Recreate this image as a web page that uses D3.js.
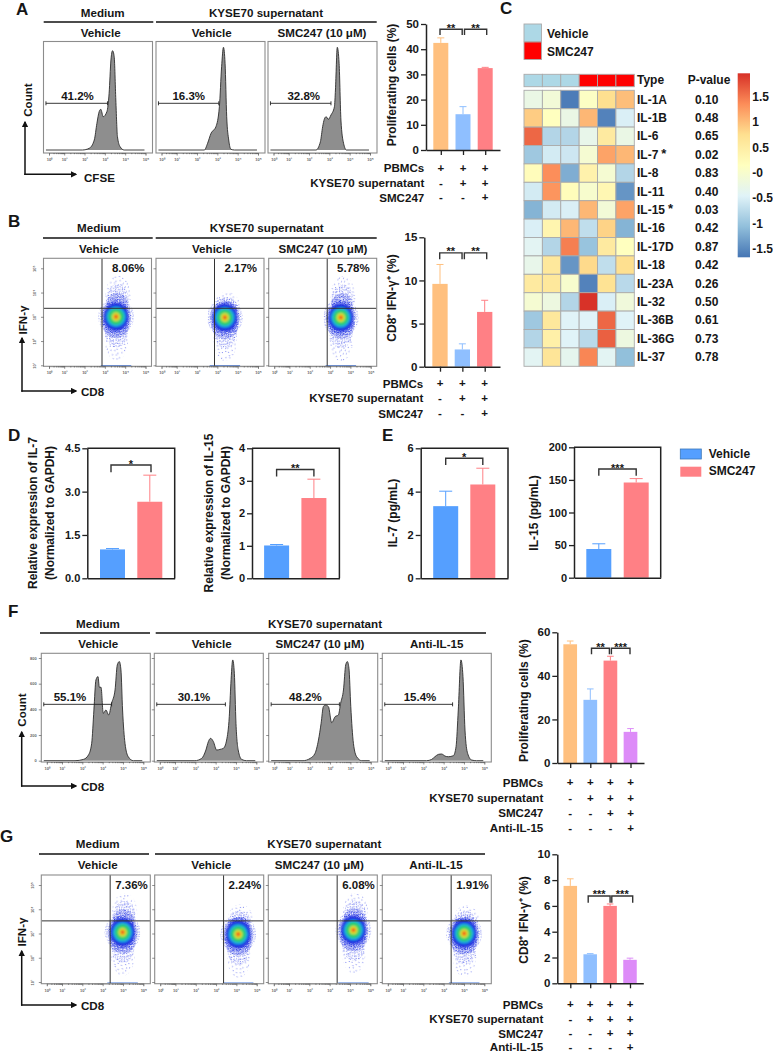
<!DOCTYPE html>
<html><head><meta charset="utf-8">
<script src="https://cdn.jsdelivr.net/npm/d3@7"></script>
<style>
html,body{margin:0;padding:0;background:#fff}
svg{display:block}
text{font-family:"Liberation Sans",Arial,sans-serif;font-weight:700;fill:#161616}
</style></head><body><div id="chart"></div>
<script>
// ---------- DATA ----------
const colOrange="#FFC07F",colBlue="#8FBFFF",colRed="#FF8085",colPurple="#DD8CF8",colBlue2="#559FFF";
const rowsABLabels=["PBMCs","KYSE70 supernatant","SMC247"];
const rowsAB=[["+","+","+"],["-","+","+"],["-","-","+"]];
const rowsFGLabels=["PBMCs","KYSE70 supernatant","SMC247","Anti-IL-15"];
const rowsFG=[["+","+","+","+"],["-","+","+","+"],["-","-","+","+"],["-","-","-","+"]];
const aVals=[42.5,14.2,32.5], aErr=[44.5,17.2,32.8];
const bVals=[9.6,2.0,6.35], bErr=[11.85,2.65,7.7];
const d1Vals=[1.0,2.65], d1Err=[1.03,3.57];
const d2Vals=[1.01,2.47], d2Err=[1.04,3.05];
const e1Vals=[3.33,4.33], e1Err=[4.02,5.08];
const e2Vals=[44,146], e2Err=[52,152];
const fVals=[54.5,29,47,14.3], fErr=[56,34,49,15.8];
const gVals=[7.55,2.25,6.0,1.82], gErr=[8.1,2.3,6.15,1.95];
// histograms: log10 intensity / normalised count
const hA1x=[1.9,2.23,2.48,2.61,2.72,2.8,2.92,3.1,3.21,3.3,3.38,3.46,3.54,3.62,3.75,3.95];
const hA1y=[0,.017,.1,.267,.383,.407,.333,.383,.567,.9,.993,.933,.5,.133,.033,0];
const hA2x=[2.36,2.52,2.69,2.93,3.1,3.21,3.3,3.38,3.46,3.56,3.67,3.84];
const hA2y=[0,.067,.167,.233,.433,.833,1.027,.867,.333,.1,.007,0];
const hA3x=[2.34,2.56,2.67,2.75,2.84,2.95,3.08,3.25,3.3,3.39,3.48,3.57,3.7,3.84];
const hA3y=[0,.083,.233,.307,.333,.307,.35,.433,.6,1.027,.867,.3,.067,0];
const hF1x=[1.64,2.05,2.3,2.46,2.57,2.67,2.77,2.84,2.92,3.03,3.16,3.3,3.44,3.61,3.72,3.82,3.9,3.98,4.1,4.26,4.51];
const hF1y=[0,10,44,135,395,629,655,572,572,369,395,356,447,551,746,772,707,395,135,31,0];
const hF2x=[1.98,2.31,2.52,2.64,2.75,2.89,3.05,3.21,3.38,3.54,3.67,3.75,3.84,3.92,4.0,4.11,4.28,4.52];
const hF2y=[0,18,83,148,174,148,83,88,96,161,343,603,785,681,291,83,10,0];
const hF3x=[1.67,2.02,2.26,2.43,2.56,2.67,2.77,2.92,3.08,3.25,3.41,3.52,3.66,3.77,3.85,3.93,4.02,4.15,4.31,4.56];
const hF3y=[0,18,57,161,291,421,434,421,296,343,356,447,551,746,772,720,421,135,31,0];
const hF4x=[2.16,2.41,2.57,2.74,2.9,3.07,3.23,3.48,3.61,3.72,3.85,3.95,4.05,4.18,4.38,4.62];
const hF4y=[0,10,31,49,52,36,31,39,109,395,785,655,239,57,5,0];
// flow density plots: cloud centre in log10 units
const bCenters=[[3.55,3.0],[3.37,2.97],[3.53,2.97]];
const bPlume=[1,.62,1];
const gCenters=[[3.98,3.05],[4.09,2.97],[4.17,3.14],[4.01,3.0]];
const gPlume=[.95,.72,.9,.68];
// up/down tail shapes of each cloud, in decades: dx, dy, rx, ry, speckle
const tailsUp=[[.1,.85,.62,.85,"spk"],[.08,.68,.55,.68,"spkMid"],[.05,.5,.52,.5,"spkDense"]];
const tailsDown=[[.02,-.9,.58,.9,"spk"],[.02,-.62,.56,.65,"spkMid"],[0,-.35,.66,.52,"spkDense"]];
const cloudLevels=[.58,.46,.36,.2,.11,.05];
const cloudColors=["#1c2ee0","#1fa8e4","#2ccf70","#d8e02c","#f28a1e","#e42222"];
// heatmap
const hmRows=["IL-1A","IL-1B","IL-6","IL-7 *","IL-8","IL-11","IL-15 *","IL-16","IL-17D","IL-18","IL-23A","IL-32","IL-36B","IL-36G","IL-37"];
const hmP=["0.10","0.48","0.65","0.02","0.83","0.40","0.03","0.42","0.87","0.42","0.26","0.50","0.61","0.73","0.78"];
const hmVals=[
[-.25,-.1,-1.6,.1,.75,1.0],
[.9,.15,-.25,1.05,-1.55,-.5],
[1.6,-.8,-.8,-.3,.55,-.25],
[-.95,-.55,-.6,-.05,1.2,1.05],
[.2,1.35,-1.2,.4,-.05,-.8],
[-.55,1.3,.2,0,.3,-1.4],
[-1.15,-.55,-.5,1.05,-.1,1.2],
[-.5,.35,1.05,-.7,.85,-1.15],
[-.4,-.8,1.45,-1.0,.55,.15],
[-.3,.6,-1.4,.8,-.7,.75],
[.55,.6,0,-1.55,.7,-.75],
[-.05,-.2,-.8,1.95,-.5,-.15],
[-.95,.6,-.45,-.45,1.6,-.45],
[-.8,.45,-.45,-.75,1.65,-.2],
[-.4,.65,-.35,1.4,-.4,-1.05]];
const hmType=["Vehicle","Vehicle","Vehicle","SMC247","SMC247","SMC247"];
const hmTicks=[1.5,1,.5,0,-.5,-1,-1.5];
const hmTickText=["1.5","1","0.5","-0","-0.5","-1","-1.5"];
const hmRamp=["#4575B4","#91BFDB","#E0F3F8","#FFFFBF","#FEE090","#FC8D59","#D73027"];
const hmDomain=[-1.66,1.96];

// ---------- SETUP ----------
const W=773,H=1053,FS=11.6;
const svg=d3.select("#chart").append("svg").attr("width",W).attr("height",H);
const defs=svg.append("defs");
defs.append("marker").attr("id","ah").attr("viewBox","0 0 10 10").attr("refX",8).attr("refY",5)
 .attr("markerWidth",6.5).attr("markerHeight",6.5).attr("orient","auto").attr("markerUnits","userSpaceOnUse")
 .append("path").attr("d","M0,0L10,5L0,10z").attr("fill","#111");
const tile=[[1,2],[5,1],[9,3],[13,1],[17,2],[21,4],[3,6],[7,5],[11,7],[15,5],[19,7],[23,6],[1,9],[6,10],[10,9],[14,11],[18,9],[22,10],
[3,13],[8,14],[12,13],[16,15],[20,13],[0,16],[5,17],[9,18],[13,17],[18,18],[22,17],[2,20],[7,21],[11,22],[15,20],[20,22],[23,20],[4,23],[17,23]];
function speckle(id,stepSize,color,rot){
 const p=defs.append("pattern").attr("id",id).attr("patternUnits","userSpaceOnUse").attr("width",24*stepSize).attr("height",24*stepSize).attr("patternTransform",`rotate(${rot})`);
 tile.forEach(t=>p.append("rect").attr("x",t[0]*stepSize).attr("y",t[1]*stepSize).attr("width",.8).attr("height",.8).attr("fill",color));
}
speckle("spk",.95,"#3a48ea",17);
speckle("spkMid",.6,"#2434e6",31);
speckle("spkDense",.38,"#1c2ee0",11);
defs.append("filter").attr("id","soft").attr("x","-30%").attr("y","-30%").attr("width","160%").attr("height","160%")
 .append("feGaussianBlur").attr("stdDeviation",1.2);

function txt(g,x,y,s,size,anchor,rot){
 const t=g.append("text").attr("x",x).attr("y",y).attr("font-size",size).attr("text-anchor",anchor||"start").attr("dominant-baseline","central").text(s);
 if(rot) t.attr("transform",`rotate(${rot},${x},${y})`);
 return t;
}
function hline(g,x1,x2,y){g.append("line").attr("x1",x1).attr("x2",x2).attr("y1",y).attr("y2",y).attr("stroke","#111").attr("stroke-width",1.4);}
function arrowLine(g,x1,y1,x2,y2){g.append("line").attr("x1",x1).attr("y1",y1).attr("x2",x2).attr("y2",y2).attr("stroke","#111").attr("stroke-width",1.5).attr("marker-end","url(#ah)");}
const sup={0:"⁰",1:"¹",2:"²",3:"³",4:"⁴",5:"⁵"};
const minorLog=d3.range(0,5).flatMap(d=>[2,3,4,5,6,7,8,9].map(m=>d+Math.log10(m)));
const logTicks=[0,1,2,3,4,5];

function logX(left){return d3.scaleLinear().domain([0,1,5]).range([left+5.5,left+20.7,left+102]);}
function styleFlowAxis(a){a.select(".domain").attr("stroke","#666").attr("stroke-width",.4);
 a.selectAll(".tick line").attr("stroke","#444").attr("stroke-width",.6);
 a.selectAll("text").attr("font-size",4).attr("font-weight",400).style("fill","#666");}
function xFlowAxis(g,x,bottom){
 const a=g.append("g").attr("transform",`translate(0,${bottom})`).call(d3.axisBottom(x).tickValues(logTicks).tickSize(2.5).tickPadding(2.5).tickFormat(d=>"10"+sup[d]));
 styleFlowAxis(a);
 const m=g.append("g").attr("transform",`translate(0,${bottom})`).call(d3.axisBottom(x).tickValues(minorLog).tickSize(1.2).tickFormat(""));
 styleFlowAxis(m); m.select(".domain").remove();
}
function frame(g,left,top,w,h){g.append("rect").attr("x",left).attr("y",top).attr("width",w).attr("height",h).attr("fill","none").attr("stroke","#8c8c8c").attr("stroke-width",1.1);}

// ---------- HISTOGRAM PANEL ----------
function histPanel(g,o){
 const x=logX(o.left),y=d3.scaleLinear().domain(o.yDomain).range([o.base,o.yTopPx]);
 const xs=[-.2].concat(o.xs,[4.95]),ys=[0].concat(o.ys,[0]);
 const pts=xs.map((v,i)=>[v,ys[i]]);
 g.append("path").attr("d",d3.area().x(d=>x(d[0])).y0(y(0)).y1(d=>y(d[1])).curve(d3.curveMonotoneX)(pts)).attr("fill","#8e8e8e");
 g.append("path").attr("d",d3.line().x(d=>x(d[0])).y(d=>y(d[1])).curve(d3.curveMonotoneX)(pts)).attr("fill","none").attr("stroke","#2d2d2d").attr("stroke-width",.9);
 const gy=y(o.gateY),gx1=x(-.2),gx2=x(o.gateEnd);
 g.append("line").attr("x1",gx1).attr("x2",gx2).attr("y1",gy).attr("y2",gy).attr("stroke","#222").attr("stroke-width",.9);
 [gx1,gx2].forEach(v=>g.append("line").attr("x1",v).attr("x2",v).attr("y1",gy-2).attr("y2",gy+2).attr("stroke","#222").attr("stroke-width",.9));
 frame(g,o.left,o.top,o.w,o.h);
 xFlowAxis(g,x,o.top+o.h);
 if(o.yTicks){
  const a=g.append("g").attr("transform",`translate(${o.left},0)`).call(d3.axisLeft(y).tickValues(o.yTicks).tickSize(2.5).tickPadding(2).tickFormat(o.yFmt||""));
  styleFlowAxis(a); a.select(".domain").remove();
 }
 txt(g,o.left+o.lblX,o.lblY,o.label,11.5,"middle");
}
// ---------- DOT PANEL ----------
let clipN=0;
function dotPanel(g,o){
 const x=logX(o.left),y=d3.scaleLinear().domain([1,5]).range([o.top+107,o.top+10]);
 const id="cp"+(clipN++);
 defs.append("clipPath").attr("id",id).append("rect").attr("x",o.left).attr("y",o.top).attr("width",o.w).attr("height",o.h);
 const c=g.append("g").attr("clip-path",`url(#${id})`);
 const [cx,cy]=o.center, kx=x(4)-x(3), ky=y(3)-y(4);
 function ell(lx,ly,rx,ry,f){c.append("ellipse").attr("cx",x(lx)).attr("cy",y(ly)).attr("rx",rx*kx).attr("ry",ry*ky).attr("fill",`url(#${f})`);}
 tailsUp.forEach(t=>ell(cx+t[0],cy+t[1]*o.plume,t[2],t[3]*o.plume,t[4]));
 tailsDown.forEach(t=>ell(cx+t[0],cy+t[1],t[2],t[3],t[4]));
 ell(cx,cy,.88,.78,"spkMid");
 ell(cx,cy,.74,.68,"spkDense");
 const core=c.append("g").attr("filter","url(#soft)");
 cloudLevels.forEach((r,i)=>core.append("ellipse").attr("cx",x(cx)).attr("cy",y(cy)).attr("rx",r*kx*1.05).attr("ry",r*ky*(i==0?.98:.92)).attr("fill",cloudColors[i]));
 c.append("line").attr("x1",x(cx-.75)).attr("x2",x(cx+.75)).attr("y1",o.top+o.h-.8).attr("y2",o.top+o.h-.8).attr("stroke","#3a70d8").attr("stroke-width",.8);
 // quadrant gates
 c.append("line").attr("x1",x(o.gateX)).attr("x2",x(o.gateX)).attr("y1",o.top).attr("y2",o.top+o.h).attr("stroke","#333").attr("stroke-width",1);
 c.append("line").attr("x1",o.left).attr("x2",o.left+o.w).attr("y1",y(o.gateY)).attr("y2",y(o.gateY)).attr("stroke","#333").attr("stroke-width",1);
 frame(g,o.left,o.top,o.w,o.h);
 xFlowAxis(g,x,o.top+o.h);
 const a=g.append("g").attr("transform",`translate(${o.left},0)`).call(d3.axisLeft(y).tickValues([1,2,3,4,5]).tickSize(2.5).tickPadding(2).tickFormat(o.first?(d=>"10"+sup[d]):""));
 styleFlowAxis(a); a.select(".domain").remove();
 if(o.first) a.selectAll("text").attr("text-anchor","middle").attr("x",0).attr("dy",0).attr("dominant-baseline","central").attr("transform","translate(-9,0) rotate(-90)");
 txt(g,o.left+o.lblX,o.lblY,o.label,11.5,"end");
}

// ---------- BAR CHART ----------
function barChart(o){
 const g=svg.append("g"),n=o.vals.length;
 const xc=d3.scaleLinear().domain([0,n-1]).range(o.centers);
 const x=xc.copy().domain([xc.invert(o.x0),xc.invert(o.x1)]).range([o.x0,o.x1]);
 const y=d3.scaleLinear().domain([0,o.max]).range([o.yBot,o.yTop]);
 const idx=d3.range(n);
 g.selectAll(".e").data(idx).join("path").attr("fill","none").attr("stroke",i=>o.colors[i]).attr("stroke-width",1)
  .attr("d",i=>`M${x(i)},${y(o.vals[i])}V${y(o.errs[i])}M${x(i)-o.cap},${y(o.errs[i])}H${x(i)+o.cap}`);
 g.selectAll(".b").data(idx).join("rect").attr("x",i=>x(i)-o.bw/2).attr("width",o.bw)
  .attr("y",i=>y(o.vals[i])).attr("height",i=>y(0)-y(o.vals[i])).attr("fill",i=>o.colors[i]);
 const ya=g.append("g").attr("transform",`translate(${o.x0},0)`).call(d3.axisLeft(y).tickValues(o.ticks).tickSize(5).tickPadding(2).tickFormat(o.fmt||(d=>d)).tickSizeOuter(0));
 const xa=g.append("g").attr("transform",`translate(0,${o.yBot})`).call(d3.axisBottom(x).tickValues(o.box?[]:idx).tickSize(5).tickFormat("").tickSizeOuter(0));
 [ya,xa].forEach(a=>{a.select(".domain").attr("stroke","#222").attr("stroke-width",1.5);a.selectAll(".tick line").attr("stroke","#222").attr("stroke-width",1.3);});
 ya.selectAll("text").attr("font-size",o.tickSize||11.5);
 if(o.box) g.append("path").attr("d",`M${o.x0},${o.yTop}H${o.x1}V${o.yBot}`).attr("fill","none").attr("stroke","#222").attr("stroke-width",1.5);
 o.ylabel.forEach((l,i)=>txt(g,o.ylabelX[i],o.ylabelY,l,12,"middle",-90));
 o.brackets.forEach(b=>{
  const p=d3.path(),xa=x(b.a)+(b.da||0),xb=x(b.b)+(b.db||0);
  p.moveTo(xa,y(b.foot));p.lineTo(xa,y(b.top));p.lineTo(xb,y(b.top));p.lineTo(xb,y(b.foot));
  g.append("path").attr("d",p.toString()).attr("fill","none").attr("stroke","#333").attr("stroke-width",1.4);
  txt(g,(xa+xb)/2,y(b.top)-1.5,b.s,11,"middle");
 });
 if(o.rows){
  o.rowLabels.forEach((l,r)=>{
   txt(g,o.rowX,o.rowYs[r],l,FS,"end");
   idx.forEach(i=>txt(g,x(i),o.rowYs[r],o.rows[r][i],11.5,"middle"));
  });
 }
}

// ---------- PANEL LETTERS ----------
[["A",16,9],["B",8,221],["C",500,8],["D",8,435],["E",382,435],["F",8,611],["G",0,836]].forEach(d=>txt(svg,d[1],d[2],d[0],17,"start"));

// ---------- PANEL A ----------
const gA=svg.append("g");
txt(gA,102.7,12,"Medium",FS,"middle");txt(gA,266,12,"KYSE70 supernatant",FS,"middle");
hline(gA,43.7,153.3,22);hline(gA,156,376.7,22);
[[100.7,"Vehicle"],[211.7,"Vehicle"],[322,"SMC247 (10 μM)"]].forEach(d=>txt(gA,d[0],32.5,d[1],FS,"middle"));
[{l:43.5,x:hA1x,y:hA1y,e:3.13,t:"41.2%",lx:34},{l:156,x:hA2x,y:hA2y,e:3.07,t:"16.3%",lx:32.7},{l:268,x:hA3x,y:hA3y,e:3.08,t:"32.8%",lx:35.7}].forEach(p=>
 histPanel(gA,{left:p.l,top:41.5,w:109,h:111.5,xs:p.x,ys:p.y,yDomain:[0,1],base:150,yTopPx:50,gateY:.467,gateEnd:p.e,label:p.t,lblX:p.lx,lblY:96}));
arrowLine(gA,25,175,25,122);arrowLine(gA,24.3,174.3,76,174.3);
txt(gA,27,100,"Count",FS,"middle",-90);txt(gA,84,177,"CFSE",FS,"start");

barChart({vals:aVals,errs:aErr,colors:[colOrange,colBlue,colRed],x0:426,x1:500,yBot:150,yTop:24,max:50,ticks:[0,10,20,30,40,50],
 centers:[440.8,485.2],bw:15,cap:3.5,ylabel:["Proliferating cells (%)"],ylabelX:[391.7],ylabelY:85,
 brackets:[{a:0,b:1,da:-.8,db:-.8,top:47.9,foot:45.6,s:"**"},{a:1,b:2,da:1.5,db:1.5,top:47.9,foot:45.6,s:"**"}],
 rows:rowsAB,rowLabels:rowsABLabels,rowX:424.3,rowYs:[167.7,182.7,197.3]});

// ---------- PANEL B ----------
const gB=svg.append("g");
txt(gB,99,227,"Medium",FS,"middle");txt(gB,266.7,227,"KYSE70 supernatant",FS,"middle");
hline(gB,43,152.7,238);hline(gB,155.7,376.7,238);
[[99,"Vehicle"],[212,"Vehicle"],[323,"SMC247 (10 μM)"]].forEach(d=>txt(gB,d[0],248,d[1],FS,"middle"));
[43.5,156,268.7].forEach((l,i)=>dotPanel(gB,{left:l,top:258.3,w:108,h:108,center:bCenters[i],plume:bPlume[i],gateX:2.86,gateY:3.35,
 first:i==0,label:["8.06%","2.17%","5.78%"][i],lblX:101,lblY:267.7}));
arrowLine(gB,22,391.7,22,338);arrowLine(gB,21.3,391,76,391);
txt(gB,22,320,"IFN-γ",FS,"middle",-90);txt(gB,81,391,"CD8",FS,"start");

barChart({vals:bVals,errs:bErr,colors:[colOrange,colBlue,colRed],x0:424.3,x1:500,yBot:366.7,yTop:237.3,max:15,ticks:[0,5,10,15],
 centers:[440,484.7],bw:15.3,cap:3.5,ylabel:["CD8⁺ IFN-γ⁺ (%)"],ylabelX:[391.7],ylabelY:298,
 brackets:[{a:0,b:1,da:-.3,db:-.3,top:13.2,foot:12.45,s:"**"},{a:1,b:2,da:2,db:2,top:13.2,foot:12.45,s:"**"}],
 rows:rowsAB,rowLabels:rowsABLabels,rowX:423.3,rowYs:[383.3,397.7,413.3]});

// ---------- PANEL C ----------
const gC=svg.append("g");
const hmColor=d3.scaleLinear().domain(hmRamp.map((c,i)=>hmDomain[0]+i*(hmDomain[1]-hmDomain[0])/(hmRamp.length-1))).range(hmRamp);
const typeColor=d3.scaleOrdinal().domain(["Vehicle","SMC247"]).range(["#ADD8E6","#FF0000"]);
typeColor.domain().forEach((t,i)=>{
 gC.append("rect").attr("x",524).attr("y",24+i*18).attr("width",17.5).attr("height",17.5).attr("fill",typeColor(t)).attr("stroke","#aaa").attr("stroke-width",.9);
 txt(gC,547,33.5+i*18,t,12,"start");
});
const hx=d3.scaleBand().domain(d3.range(6)).range([524,634.3]);
const hy=d3.scaleBand().domain(hmRows).range([90.3,366.3]);
gC.selectAll(".ty").data(hmType).join("rect").attr("x",(d,i)=>hx(i)).attr("y",74.3).attr("width",hx.bandwidth()).attr("height",12.4)
 .attr("fill",d=>typeColor(d)).attr("stroke","#aaa").attr("stroke-width",.9);
txt(gC,637,80,"Type",12,"start");txt(gC,709,80,"P-value",12,"middle");
hmRows.forEach((r,ri)=>{
 hmVals[ri].forEach((v,ci)=>gC.append("rect").attr("x",hx(ci)).attr("y",hy(r)).attr("width",hx.bandwidth()).attr("height",hy.bandwidth())
  .attr("fill",hmColor(v)).attr("stroke","#aaa").attr("stroke-width",.9));
 const cy=hy(r)+hy.bandwidth()/2;
 const parts=r.split(" ");
 const lab=txt(gC,637,cy,parts[0],12,"start");
 if(parts[1]) lab.append("tspan").attr("dx",3).attr("dy",-2).attr("font-size",13).text(parts[1]);
 txt(gC,706.7,cy,hmP[ri],12,"middle");
});
const cbY=d3.scaleLinear().domain(hmDomain).range([257.3,73.3]);
const cbG=defs.append("linearGradient").attr("id","cb").attr("x1",0).attr("x2",0).attr("y1",1).attr("y2",0);
hmRamp.forEach((c,i)=>cbG.append("stop").attr("offset",i/(hmRamp.length-1)).attr("stop-color",c));
gC.append("rect").attr("x",737.7).attr("y",73.3).attr("width",12.3).attr("height",184).attr("fill","url(#cb)");
hmTicks.forEach((t,i)=>txt(gC,752.3,cbY(t),hmTickText[i],12,"start"));

// ---------- PANELS D, E ----------
const twoColors=[colBlue2,colRed];
const common={colors:twoColors,box:true,bw:25,cap:6.5,yBot:578.3,yTop:448.3,tickSize:11};
barChart({...common,vals:d1Vals,errs:d1Err,x0:87.3,x1:174.7,max:4.5,ticks:[0,1.5,3,4.5],fmt:d3.format(".1f"),centers:[112.5,149.8],
 ylabel:["Relative expression of IL-7","(Normalized to GAPDH)"],ylabelX:[33,50],ylabelY:513,
 brackets:[{a:0,b:1,da:-1.5,db:1.2,top:3.92,foot:3.67,s:"*"}]});
barChart({...common,vals:d2Vals,errs:d2Err,x0:252,x1:339.4,max:4,ticks:[0,1,2,3,4],centers:[276.6,313.9],
 ylabel:["Relative expression of IL-15","(Normalized to GAPDH)"],ylabelX:[209,226],ylabelY:513,
 brackets:[{a:0,b:1,top:3.35,foot:3.13,s:"**"}]});
barChart({...common,vals:e1Vals,errs:e1Err,x0:420.7,x1:508,max:6,ticks:[0,2,4,6],centers:[445.7,482.8],
 ylabel:["IL-7 (pg/mL)"],ylabelX:[393],ylabelY:513,
 brackets:[{a:0,b:1,top:5.54,foot:5.23,s:"*"}]});
barChart({...common,vals:e2Vals,errs:e2Err,x0:574,x1:660.7,yBot:577.7,yTop:447.3,max:200,ticks:[0,50,100,150,200],centers:[598.8,636.2],
 ylabel:["IL-15 (pg/mL)"],ylabelX:[534],ylabelY:513,
 brackets:[{a:0,b:1,top:166.7,foot:156.4,s:"***"}]});
const gL=svg.append("g");
["Vehicle","SMC247"].forEach((t,i)=>{
 gL.append("rect").attr("x",680.3).attr("y",449+i*17.7).attr("width",21).attr("height",10).attr("fill",twoColors[i]).attr("stroke",i==0?"#3d78b8":"none").attr("stroke-width",.8);
 txt(gL,708.7,453.5+i*17.8,t,12,"start");
});

// ---------- PANEL F ----------
const gF=svg.append("g");
txt(gF,98,623,"Medium",FS,"middle");txt(gF,325,623,"KYSE70 supernatant",FS,"middle");
hline(gF,40,150,633);hline(gF,155.7,486,633);
[[98.3,"Vehicle"],[211.7,"Vehicle"],[320,"SMC247 (10 μM)"],[436.7,"Anti-IL-15"]].forEach(d=>txt(gF,d[0],643.7,d[1],FS,"middle"));
[{l:41.3,x:hF1x,y:hF1y,e:3.44,t:"55.1%",lx:28.7},{l:154.3,x:hF2x,y:hF2y,e:3.48,t:"30.1%",lx:39.7},{l:268.7,x:hF3x,y:hF3y,e:3.46,t:"48.2%",lx:36.7},{l:382.3,x:hF4x,y:hF4y,e:3.44,t:"15.4%",lx:37.7}].forEach((p,i)=>
 histPanel(gF,{left:p.l,top:653.3,w:109,h:108.7,xs:p.x,ys:p.y,yDomain:[0,800],base:760.7,yTopPx:658,gateY:439,gateEnd:p.e,label:p.t,lblX:p.lx,lblY:696.7,yTicks:[0,200,400,600,800],yFmt:i==0?(d=>d):""}));
arrowLine(gF,21.7,786.7,21.7,732);arrowLine(gF,21,786,76,786);
txt(gF,21.7,710,"Count",FS,"middle",-90);txt(gF,81,786,"CD8",FS,"start");

const fourColors=[colOrange,colBlue,colRed,colPurple];
barChart({vals:fVals,errs:fErr,colors:fourColors,x0:557.3,x1:644,yBot:763,yTop:632.3,max:60,ticks:[0,20,40,60],centers:[570.2,630.5],bw:13.7,cap:3.3,
 ylabel:["Proliferating cells (%)"],ylabelX:[524],ylabelY:700.7,
 brackets:[{a:1,b:2,da:1.2,db:-1,top:52.7,foot:49.9,s:"**"},{a:2,b:3,da:1,db:-.5,top:52.7,foot:49.9,s:"***"}],
 rows:rowsFG,rowLabels:rowsFGLabels,rowX:543.3,rowYs:[782.3,797.7,812.7,827.7]});

// ---------- PANEL G ----------
const gG=svg.append("g");
txt(gG,97.7,843,"Medium",FS,"middle");txt(gG,324.3,843,"KYSE70 supernatant",FS,"middle");
hline(gG,39,149,854);hline(gG,155,485,854);
[[97.7,"Vehicle"],[211.3,"Vehicle"],[319.3,"SMC247 (10 μM)"],[436,"Anti-IL-15"]].forEach(d=>txt(gG,d[0],864,d[1],FS,"middle"));
[41.3,154.7,268.3,382.3].forEach((l,i)=>dotPanel(gG,{left:l,top:875,w:109,h:108.7,center:gCenters[i],plume:gPlume[i],gateX:3.37,gateY:3.52,
 first:i==0,label:["7.36%","2.24%","6.08%","1.91%"][i],lblX:106.5,lblY:885}));
arrowLine(gG,21.7,1005.7,21.7,951);arrowLine(gG,21,1005,76,1005);
txt(gG,21.7,932,"IFN-γ",FS,"middle",-90);txt(gG,81,1005,"CD8",FS,"start");

barChart({vals:gVals,errs:gErr,colors:fourColors,x0:557.3,x1:643.3,yBot:983.3,yTop:854.3,max:10,ticks:[0,2,4,6,8,10],centers:[570.3,630],bw:13.5,cap:3.3,
 ylabel:["CD8⁺ IFN-γ⁺ (%)"],ylabelX:[524],ylabelY:920,
 brackets:[{a:1,b:2,da:-2,db:0,top:6.77,foot:6.25,s:"***"},{a:2,b:3,da:1.7,db:2.7,top:6.77,foot:6.25,s:"***"}],
 rows:rowsFG,rowLabels:rowsFGLabels,rowX:543.3,rowYs:[1004,1018.5,1033,1046.5]});
</script></body></html>
